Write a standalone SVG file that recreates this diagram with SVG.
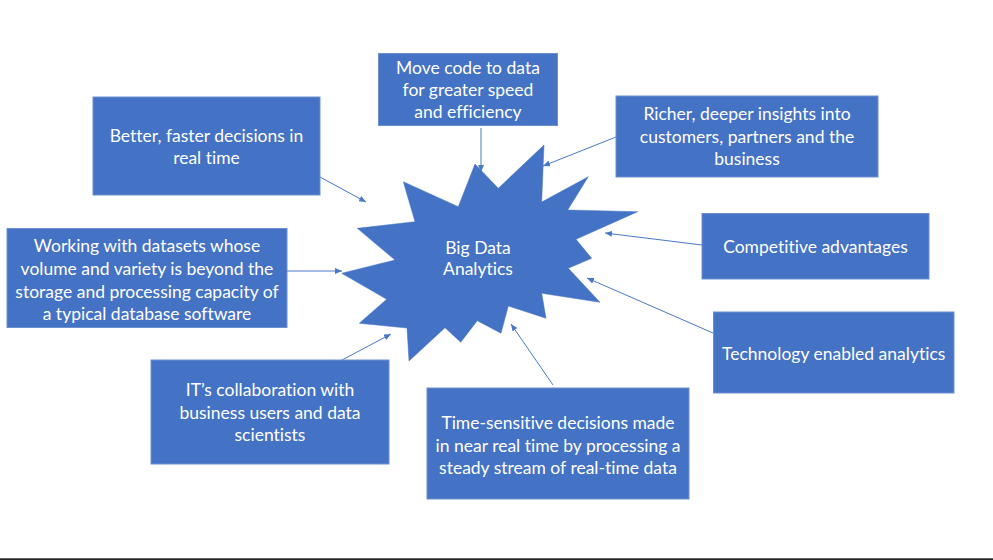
<svg xmlns="http://www.w3.org/2000/svg" width="993" height="560" viewBox="0 0 993 560">
<style>
.box{fill:#4472C4;stroke:#6E8FD0;stroke-width:1}
.t{font-family:Lato,"Liberation Sans",sans-serif;font-size:17.5px;fill:#FFFFFF;text-anchor:middle;font-variant-ligatures:none}
.c{stroke:#4A78C8;stroke-width:1;fill:none;marker-end:url(#ah)}
</style>
<defs>
<marker id="ah" markerUnits="userSpaceOnUse" markerWidth="8" markerHeight="6" refX="7" refY="3" orient="auto">
<path d="M0,0 L7,3 L0,6 Z" fill="#4A78C8"/>
</marker>
</defs>
<rect width="993" height="560" fill="#FFFFFF"/>
<g id="connectors">
<line class="c" x1="320" y1="177" x2="366" y2="202"/>
<line class="c" x1="481" y1="128" x2="481" y2="172"/>
<line class="c" x1="616" y1="137" x2="543" y2="166"/>
<line class="c" x1="702" y1="245" x2="605" y2="233"/>
<line class="c" x1="713" y1="333" x2="587" y2="278"/>
<line class="c" x1="553" y1="385" x2="511" y2="324"/>
<line class="c" x1="342" y1="360" x2="391" y2="334"/>
<line class="c" x1="287" y1="271" x2="342" y2="271"/>
</g>
<g id="center">
<polygon fill="#4472C4" stroke="#4472C4" stroke-width="0.5" points="544,145 541.7,202 588.3,176.7 567.7,210 637.7,211.7 576,239.3 591.7,258.3 568.3,268.3 600,302.3 541.7,293.3 546,318.3 508.3,306 501,333.3 477.3,320.7 460.7,342.3 445,327.7 409,361 407,328 359.3,323.3 386.7,299.3 341.7,273.3 395,260 357.3,228.3 415,221.7 403.3,181.7 458.3,206.7 475,164 498.3,188.3"/>
<text class="t" x="478" y="253.5">Big Data</text>
<text class="t" x="478" y="274.5">Analytics</text>
</g>
<g id="n1">
<rect class="box" x="93" y="97" width="227" height="98"/>
<text class="t" x="206.5" y="142">Better, faster decisions in</text>
<text class="t" x="206.5" y="164">real time</text>
</g>
<g id="n2">
<rect class="box" x="378.5" y="53.5" width="179" height="72"/>
<text class="t" x="468" y="74">Move code to data</text>
<text class="t" x="468" y="96">for greater speed</text>
<text class="t" x="468" y="118">and efficiency</text>
</g>
<g id="n3">
<rect class="box" x="616" y="96" width="262" height="81"/>
<text class="t" x="747" y="120">Richer, deeper insights into</text>
<text class="t" x="747" y="143">customers, partners and the</text>
<text class="t" x="747" y="165">business</text>
</g>
<g id="n4">
<rect class="box" x="702" y="213.5" width="227" height="65.5"/>
<text class="t" x="815.5" y="253">Competitive advantages</text>
</g>
<g id="n5">
<rect class="box" x="713.5" y="312" width="240.5" height="81"/>
<text class="t" x="833.7" y="359.5">Technology enabled analytics</text>
</g>
<g id="n6">
<rect class="box" x="7" y="228.5" width="280" height="99"/>
<text class="t" x="147" y="252">Working with datasets whose</text>
<text class="t" x="147" y="275">volume and variety is beyond the</text>
<text class="t" x="147" y="297.5">storage and processing capacity of</text>
<text class="t" x="147" y="319.5">a typical database software</text>
</g>
<g id="n7">
<rect class="box" x="151" y="360" width="238" height="104"/>
<text class="t" x="270" y="396">IT’s collaboration with</text>
<text class="t" x="270" y="419">business users and data</text>
<text class="t" x="270" y="441">scientists</text>
</g>
<g id="n8">
<rect class="box" x="427" y="388" width="262" height="111"/>
<text class="t" x="558" y="429">Time-sensitive decisions made</text>
<text class="t" x="558" y="452">in near real time by processing a</text>
<text class="t" x="558" y="474">steady stream of real-time data</text>
</g>
<rect x="0" y="558.3" width="993" height="1.7" fill="#222222"/>
</svg>
